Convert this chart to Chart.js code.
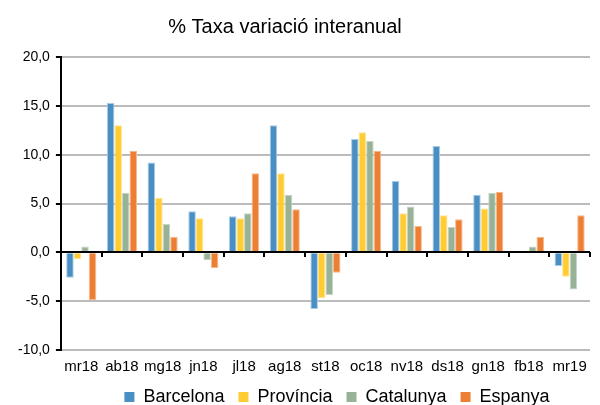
<!DOCTYPE html>
<html>
<head>
<meta charset="utf-8">
<script src="https://cdn.jsdelivr.net/npm/chart.js@4"></script>
<style>
  html, body { margin: 0; padding: 0; background: #fff; }
  #wrap { width: 600px; height: 405px; }
</style>
</head>
<body>
<div id="wrap"><canvas id="myChart"></canvas></div>
<script>
const mesos = ['mr18', 'ab18', 'mg18', 'jn18', 'jl18', 'ag18', 'st18', 'oc18', 'nv18', 'ds18', 'gn18', 'fb18', 'mr19'];
const barcelona = [-2.6, 15.3, 9.2, 4.2, 3.7, 13.0, -5.8, 11.6, 7.3, 10.9, 5.9, null, -1.4];
const provincia = [-0.7, 13.0, 5.6, 3.5, 3.5, 8.1, -4.7, 12.3, 4.0, 3.8, 4.5, null, -2.5];
const catalunya = [0.6, 6.1, 2.9, -0.8, 4.0, 5.9, -4.4, 11.4, 4.7, 2.6, 6.1, 0.6, -3.8];
const espanya = [-4.9, 10.4, 1.6, -1.6, 8.1, 4.4, -2.1, 10.4, 2.7, 3.4, 6.2, 1.6, 3.8];

// marques de l'eix a la linia del zero + desplaçar titol i llegenda
const extres = {
  id: 'extres',
  afterLayout(chart) {
    chart.titleBlock.left -= 16;
    chart.titleBlock.right -= 16;
    chart.legend.left += 36;
    chart.legend.right += 36;
  },
  afterDatasetsDraw(chart) {
    const y = chart.scales.y;
    const ctx = chart.ctx;
    const area = chart.chartArea;
    const y0 = Math.round(y.getPixelForValue(0));
    ctx.save();
    ctx.strokeStyle = '#000';
    ctx.lineWidth = 2;
    ctx.beginPath();
    ctx.moveTo(area.left, y0);
    ctx.lineTo(area.right, y0);
    const step = (area.right - area.left) / mesos.length;
    for (let i = 1; i <= mesos.length; i++) {
      const px = Math.round(area.left + step * i);
      ctx.moveTo(px, y0);
      ctx.lineTo(px, y0 + 5);
    }
    ctx.stroke();
    ctx.restore();
  }
};

let ds = (label, data, color, border) => ({
  label: label,
  data: data,
  backgroundColor: color,
  borderColor: border,
  borderWidth: 1,
  categoryPercentage: 0.74,
  barPercentage: 1.0
});

const ctx = document.getElementById('myChart');
new Chart(ctx, {
  type: 'bar',
  data: {
    labels: mesos,
    datasets: [
      ds('Barcelona', barcelona, '#4a8fc4', '#a9cbe6'),
      ds('Província', provincia, '#ffcc33', '#ffe48f'),
      ds('Catalunya', catalunya, '#97b296', '#c6d6c5'),
      ds('Espanya', espanya, '#ec7f34', '#f6b98e')
    ]
  },
  options: {
    responsive: true,
    maintainAspectRatio: false,
    animation: false,
    layout: { padding: { left: 12, right: 10, top: 0, bottom: -11 } },
    plugins: {
      title: {
        display: true,
        text: '% Taxa variació interanual',
        color: '#000',
        font: { family: 'Liberation Sans', size: 20, weight: 'normal' },
        padding: { top: 15, bottom: 18 }
      },
      legend: {
        position: 'bottom',
        labels: {
          color: '#000',
          font: { family: 'Liberation Sans', size: 18 },
          boxWidth: 10,
          boxHeight: 10,
          padding: 4,
          generateLabels: (chart) => {
            const items = Chart.defaults.plugins.legend.labels.generateLabels(chart);
            items.forEach((it, i) => {
              it.lineWidth = 0;
              if (i < items.length - 1) it.text = it.text + '  ';
            });
            return items;
          }
        }
      },
      tooltip: { enabled: false }
    },
    scales: {
      x: {
        grid: { display: false, drawTicks: false },
        border: { display: false },
        ticks: {
          color: '#000',
          font: { family: 'Liberation Sans', size: 15 },
          maxRotation: 0,
          autoSkip: false,
          padding: 8
        }
      },
      y: {
        min: -10,
        max: 20,
        ticks: {
          stepSize: 5,
          color: '#000',
          font: { family: 'Liberation Sans', size: 14 },
          padding: 6,
          callback: v => v.toFixed(1).replace('.', ',')
        },
        grid: {
          color: '#bbbbbb',
          lineWidth: 2,
          tickColor: '#000',
          tickLength: 5
        },
        border: { display: true, color: '#000', width: 2 }
      }
    }
  },
  plugins: [extres]
});
</script>
</body>
</html>
